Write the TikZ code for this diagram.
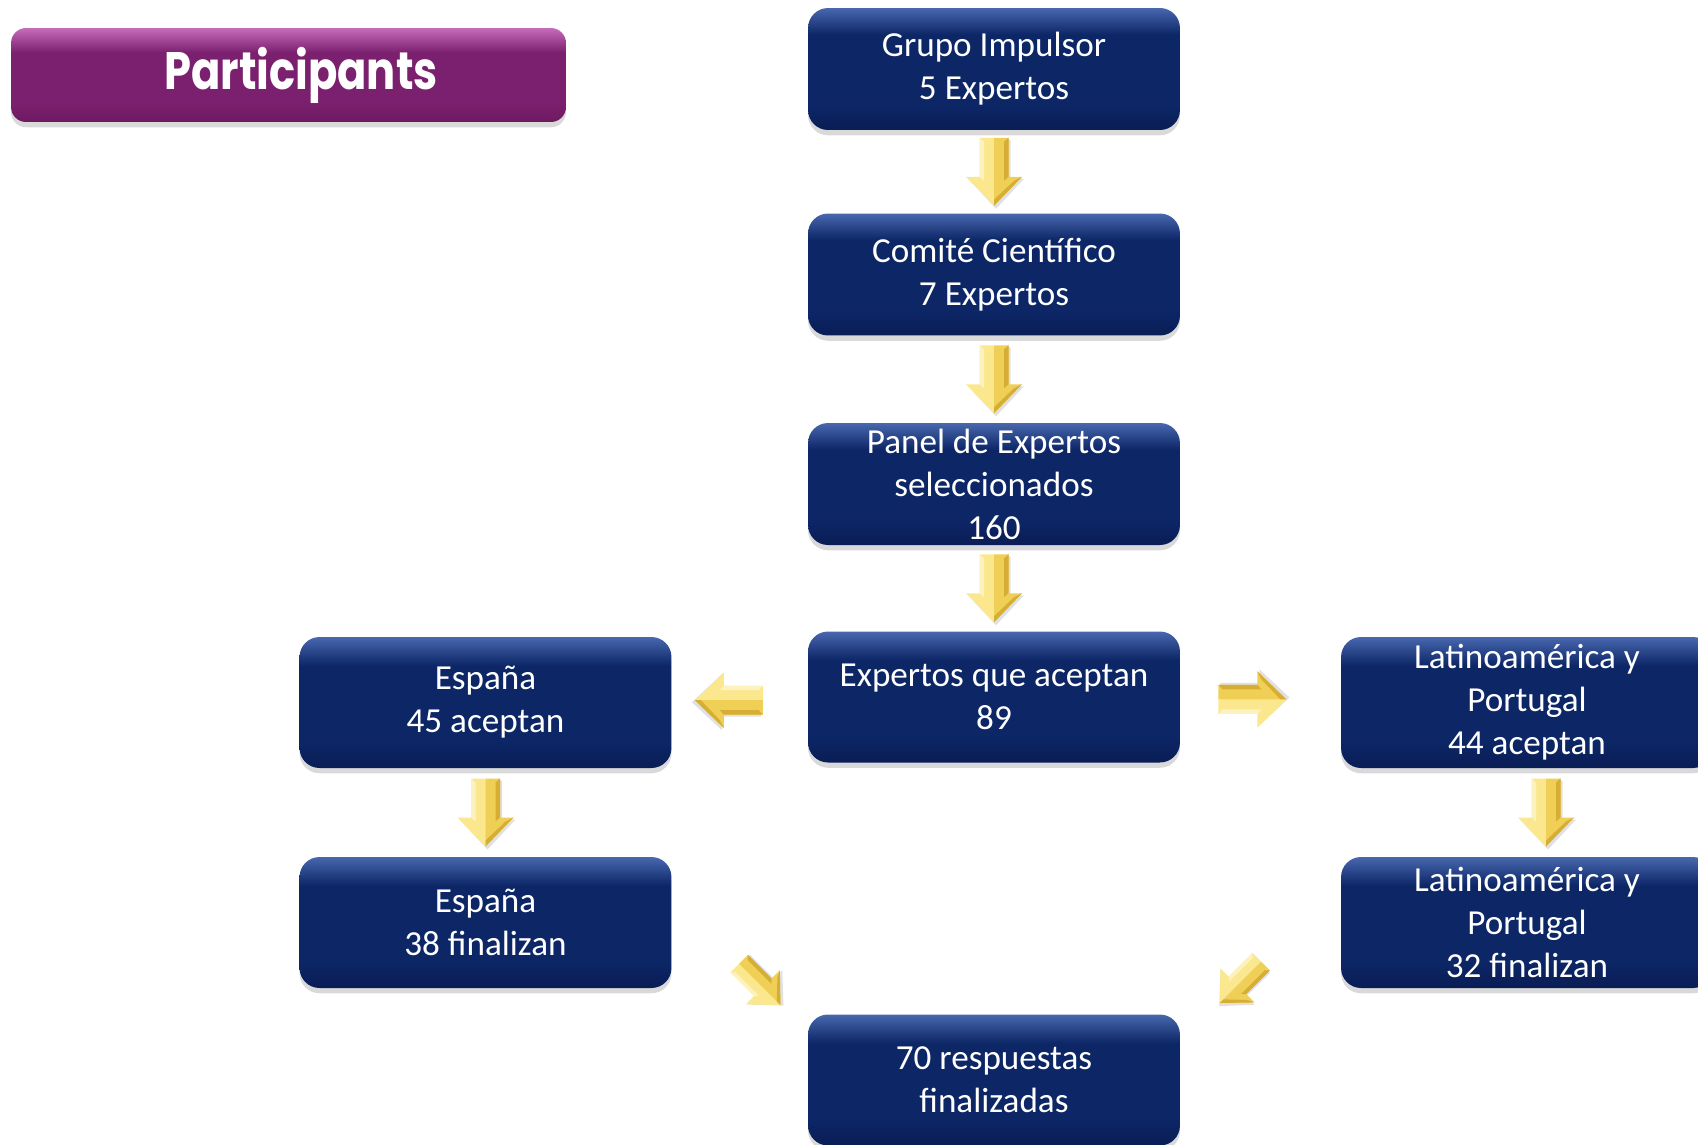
\documentclass[tikz,border=0pt]{standalone}
\usepackage{fontspec}
\setmainfont{Carlito}
\newfontfamily\titlefont{Poppins}[FakeStretch=0.82]
\usetikzlibrary{calc,shadows}

\definecolor{navyDark}{HTML}{0A1D55}
\definecolor{navyMain}{HTML}{0C2666}
\definecolor{navyTop}{HTML}{4867AE}
\definecolor{plumDark}{HTML}{6C1A60}
\definecolor{plumMain}{HTML}{7B206E}
\definecolor{plumTop}{HTML}{C76BBB}
\definecolor{goldLight}{HTML}{FBE88E}
\definecolor{goldMid}{HTML}{EFCF55}
\definecolor{goldDark}{HTML}{D6AE34}

\pgfdeclareverticalshading{navyshade}{100bp}{color(0bp)=(navyDark); color(25bp)=(navyDark); color(35bp)=(navyMain); color(64bp)=(navyMain); color(75bp)=(navyTop); color(100bp)=(navyTop)}
\pgfdeclareverticalshading{plumshade}{100bp}{color(0bp)=(plumDark); color(25bp)=(plumDark); color(35bp)=(plumMain); color(62bp)=(plumMain); color(75bp)=(plumTop); color(100bp)=(plumTop)}

\tikzset{
  paso/.style={rounded corners=0.4cm, shading=navyshade, minimum width=7.44cm,
    minimum height=2.44cm, inner sep=0pt, align=center, text=white,
    font=\fontsize{20}{24.5}\selectfont,
    drop shadow={shadow xshift=0pt, shadow yshift=-3pt, opacity=0.3}},
  pasoalto/.style={paso, minimum height=2.62cm},
  titulo/.style={rounded corners=0.3cm, shading=plumshade, minimum width=11.1cm,
    minimum height=1.88cm, inner sep=0pt, text=white,
    font=\titlefont\bfseries\fontsize{30}{30}\selectfont,
    drop shadow={shadow xshift=0pt, shadow yshift=-3pt, opacity=0.3}},
  % block arrow pointing down, units are pixels
  flecha/.pic={
    \fill[black, opacity=0.12] (-12.5,-32) -- (16.5,-32) -- (16.5,7) -- (30,7) -- (2,37) -- (-26,7) -- (-12.5,7) -- cycle;
    \fill[goldLight] (-14.5,-34) -- (0,-34) -- (0,34) -- (-28,5) -- (-14.5,5) -- cycle;
    \fill[goldMid] (14.5,-34) -- (0,-34) -- (0,34) -- (28,5) -- (14.5,5) -- cycle;
    \fill[goldDark] (14.5,-34) -- (10,-30) -- (10,9) -- (14.5,5) -- cycle;
    \fill[goldDark] (28,5) -- (0,34) -- (0,28) -- (20,9) -- cycle;
    \fill[white, opacity=0.45] (-14.5,-34) -- (-10,-30) -- (-10,9) -- (-14.5,5) -- cycle;
  }
}

\begin{document}
\begin{tikzpicture}[x=0.02cm, y=-0.02cm]
\useasboundingbox (0,0) rectangle (1698,1144);
\clip (0,0) rectangle (1698,1144);

\node[titulo] (part) at (288.5,75) {\hspace*{0.5cm}Participants};

\node[paso] (grupo) at (994,69) {Grupo Impulsor\\5 Expertos};
\node[paso] (comite) at (994,274.5) {Comité Científico\\7 Expertos};
\node[paso] (panel) at (994,484) {Panel de Expertos\\seleccionados\\160};
\node[pasoalto] (aceptan) at (994,697) {Expertos que aceptan\\89};
\node[pasoalto] (espana1) at (485.5,702.5) {España\\45 aceptan};
\node[pasoalto] (espana2) at (485.5,922.5) {España\\38 finalizan};
\node[pasoalto] (latam1) at (1527,702.5) {Latinoamérica y\\Portugal\\44 aceptan};
\node[pasoalto] (latam2) at (1527,922.5) {Latinoamérica y\\Portugal\\32 finalizan};
\node[pasoalto] (resp) at (994,1080) {70 respuestas\\finalizadas};

% flechas
\pic at ($(grupo.south)!0.5!(comite.north)$) {flecha};
\pic at ($(comite.south)!0.5!(panel.north)$) {flecha};
\pic at ($(panel.south)!0.5!(aceptan.north)$) {flecha};
\pic[rotate=-90] at ($(espana1.east)!0.42!(aceptan.west)$) {flecha};
\pic[rotate=90] at ($(aceptan.east)!0.45!(latam1.west)$) {flecha};
\pic at ($(espana1.south)!0.5!(espana2.north)$) {flecha};
\pic at ($(latam1.south)!0.5!(latam2.north)+(19,0)$) {flecha};
\pic[scale=0.86, rotate=45] at ($(espana2.east)!0.5!(resp.north west)+(20,16)$) {flecha};
\pic[scale=0.86, rotate=-45] at ($(latam2.west)!0.5!(resp.north east)+(-20,14)$) {flecha};
\end{tikzpicture}
\end{document}
